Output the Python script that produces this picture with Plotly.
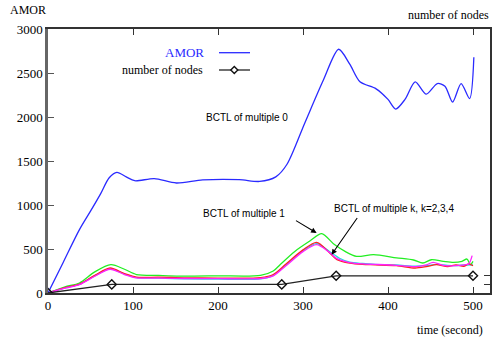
import plotly.graph_objects as go

# ---------------- data ----------------
t_amor = [0, 18, 37, 50, 62, 72, 81, 92, 102, 125, 151, 182, 225, 249, 268, 281, 302, 324, 342, 355, 367,
          386, 400, 409, 420, 432, 445, 458, 467, 476, 486, 496, 501]
v_amor = [0, 350, 720, 930, 1130, 1310, 1370, 1320, 1276, 1300, 1250, 1285, 1288, 1268, 1320, 1460, 1930, 2420,
          2770, 2600, 2400, 2320, 2200, 2090, 2200, 2400, 2260, 2380, 2350, 2170, 2380, 2210, 2680]

t_m1 = [0, 20, 37, 55, 74, 90, 104, 130, 155, 200, 250, 265, 273, 290, 308, 322, 337, 350, 363, 383,
        410, 430, 441, 451, 465, 477, 487, 493, 497, 500]
v_m1 = [0, 70, 114, 240, 322, 270, 210, 200, 192, 195, 200, 250, 322, 470, 590, 674, 550, 470, 416, 435,
        400, 375, 341, 378, 360, 348, 360, 386, 322, 360]

t_m2 = [0, 20, 37, 55, 73, 90, 104, 130, 160, 200, 250, 265, 280, 300, 316, 330, 340, 355, 370, 385,
        410, 432, 445, 457, 470, 480, 489, 495, 500]
v_m2 = [0, 60, 100, 200, 284, 220, 180, 180, 172, 170, 175, 210, 330, 490, 575, 470, 380, 340, 325, 320,
        310, 284, 300, 322, 300, 320, 303, 330, 310]

t_m3 = [0, 20, 37, 55, 73, 90, 104, 130, 160, 200, 250, 265, 280, 300, 316, 330, 343, 355, 370, 385,
        410, 432, 445, 457, 470, 480, 490, 500]
v_m3 = [0, 58, 98, 195, 275, 215, 175, 168, 160, 158, 160, 200, 320, 480, 560, 480, 395, 350, 335, 325,
        318, 305, 310, 325, 315, 312, 318, 320]

t_m4 = [0, 20, 37, 55, 73, 90, 104, 130, 160, 200, 250, 265, 280, 300, 316, 330, 340, 355, 370, 385,
        410, 432, 445, 453, 465, 480, 490, 495, 499]
v_m4 = [0, 55, 95, 190, 270, 210, 172, 170, 165, 163, 165, 195, 310, 470, 549, 470, 390, 345, 330, 325,
        315, 300, 320, 348, 315, 310, 320, 330, 424]

t_nodes = [0, 75, 275, 339, 500]
v_nodes = [0, 100, 100, 200, 200]

x_ticks = [0, 100, 200, 300, 400, 500]
y_ticks = [0, 500, 1000, 1500, 2000, 2500, 3000]
y2_ticks = [100, 200]

SERIF = "Liberation Serif, Times New Roman, serif"
SANS = "Liberation Sans, Arial, sans-serif"

fig = go.Figure()

def curve(t, v, color, width=1.3):
    fig.add_trace(go.Scatter(x=t, y=v, mode="lines", line=dict(color=color, width=width, shape="spline", smoothing=0.8),
                             showlegend=False, hoverinfo="skip"))

curve(t_m1, v_m1, "#22ee22")
curve(t_m3, v_m3, "#22dddd")
curve(t_m2, v_m2, "#ff2020")
curve(t_m4, v_m4, "#ff22ff")
curve(t_amor, v_amor, "#2a2aff")

fig.add_trace(go.Scatter(x=t_nodes, y=v_nodes, yaxis="y2", mode="lines+markers",
                         line=dict(color="#222222", width=1.3),
                         marker=dict(symbol="diamond-open", size=7, color="#111111", line=dict(width=1.4)),
                         showlegend=False, hoverinfo="skip"))

L, R, T, B = 48, 2, 29, 46
W, H = 492, 339
PW, PH = W - L - R, H - T - B

def px(xp):
    return (xp - L) / PW

def py(yp):
    return (H - B - yp) / PH

annotations = [
    dict(text="AMOR", x=px(8), y=py(10), xref="paper", yref="paper", xanchor="left", yanchor="middle",
         showarrow=False, font=dict(family=SERIF, size=12, color="black")),
    dict(text="number of nodes", x=px(491), y=py(15), xref="paper", yref="paper", xanchor="right", yanchor="middle",
         showarrow=False, font=dict(family=SERIF, size=12, color="black")),
    dict(text="time (second)", x=px(485), y=py(330), xref="paper", yref="paper", xanchor="right", yanchor="middle",
         showarrow=False, font=dict(family=SERIF, size=12, color="black")),
    dict(text="AMOR", x=px(206), y=py(52.7), xref="paper", yref="paper", xanchor="right", yanchor="middle",
         showarrow=False, font=dict(family=SERIF, size=13, color="#2a2aff")),
    dict(text="number of nodes", x=px(205), y=py(70), xref="paper", yref="paper", xanchor="right", yanchor="middle",
         showarrow=False, font=dict(family=SERIF, size=12, color="black")),
    dict(text="BCTL of multiple 0", x=234, y=1995, xref="x", yref="y", showarrow=False,
         font=dict(family=SANS, size=10, color="black")),
    dict(text="BCTL of multiple 1", x=230, y=898, xref="x", yref="y", showarrow=False,
         font=dict(family=SANS, size=10, color="black")),
    dict(text="BCTL of multiple k, k=2,3,4", x=406.6, y=958, xref="x", yref="y", showarrow=False,
         font=dict(family=SANS, size=10, color="black")),
    dict(text="", x=316, y=682, ax=290, ay=833, xref="x", yref="y", axref="x", ayref="y",
         showarrow=True, arrowhead=2, arrowsize=1, arrowwidth=1.1, arrowcolor="black", standoff=0),
    dict(text="", x=333.6, y=435, ax=365, ay=870, xref="x", yref="y", axref="x", ayref="y",
         showarrow=True, arrowhead=2, arrowsize=1, arrowwidth=1.1, arrowcolor="black", standoff=0),
]

dx, dy = 3.5 / PW, 3.5 / PH
xd, yd = px(234.3), py(70)
shapes = [
    dict(type="line", xref="paper", yref="paper", x0=px(219), x1=px(250), y0=py(52.7), y1=py(52.7),
         line=dict(color="#2a2aff", width=1.3)),
    dict(type="line", xref="paper", yref="paper", x0=px(219), x1=px(250), y0=py(70), y1=py(70),
         line=dict(color="#222222", width=1.3)),
    dict(type="path", xref="paper", yref="paper",
         path=f"M {xd},{yd+dy} L {xd+dx},{yd} L {xd},{yd-dy} L {xd-dx},{yd} Z",
         fillcolor="white", line=dict(color="#111111", width=1.4)),
]

fig.update_layout(
    width=W, height=H,
    margin=dict(l=L, r=R, t=T, b=B),
    paper_bgcolor="white", plot_bgcolor="white",
    showlegend=False,
    xaxis=dict(range=[0, 520], tickvals=x_ticks, ticks="inside", ticklen=6, tickcolor="#333",
               showgrid=False, zeroline=False, showline=True, linecolor="#333", linewidth=1.5, mirror="ticks",
               tickfont=dict(family=SERIF, size=13, color="black")),
    yaxis=dict(range=[0, 3000], tickvals=y_ticks, ticks="inside", ticklen=6, tickcolor="#555",
               showgrid=False, zeroline=False, showline=True, linecolor="#666", linewidth=2.5, mirror=False,
               tickfont=dict(family=SERIF, size=13, color="black")),
    yaxis2=dict(range=[0, 3070], overlaying="y", side="right", tickvals=y2_ticks, ticks="inside", ticklen=6,
                tickcolor="#333", showticklabels=False, showgrid=False, zeroline=False, showline=True,
                linecolor="#333", linewidth=2),
    annotations=annotations,
    shapes=shapes,
)

fig.write_html("out.html", config={"displayModeBar": False},
               post_script="document.body.style.margin='0px';document.body.style.padding='0px';")
